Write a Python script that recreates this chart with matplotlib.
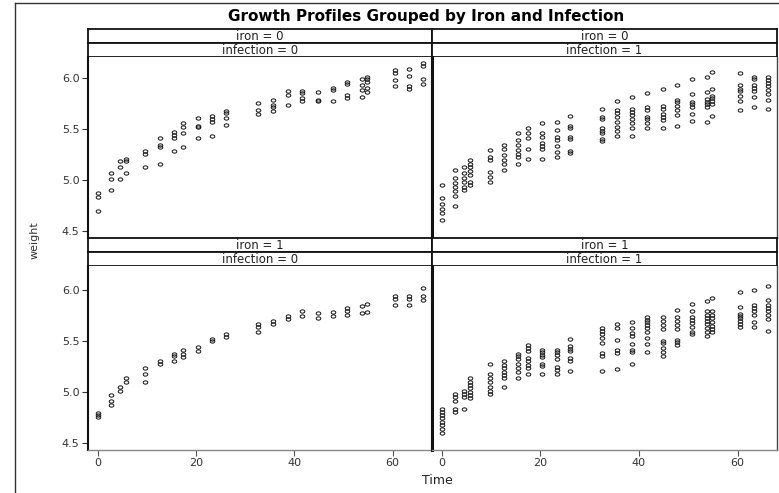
import matplotlib
matplotlib.use("Agg")
import matplotlib.pyplot as plt
from matplotlib.path import Path
from matplotlib.lines import Line2D
import numpy as np

plt.rcParams.update({"font.family": ["DejaVu Sans"], "figure.dpi": 100})

W, H = 779, 493

# measurement days
TIMES = [0, 2.7, 4.5, 5.7, 9.7, 12.7, 15.4, 17.4, 20.3, 23.3, 26.1, 32.5, 35.6,
         38.6, 41.6, 44.8, 47.8, 50.8, 53.7, 54.8, 60.4, 63.3, 66.1]

# weights per time point, one list per panel
IRON0_INF0 = [
    [4.87, 4.83, 4.70], [5.07, 5.01, 4.90], [5.19, 5.13, 5.01], [5.21, 5.19, 5.07],
    [5.29, 5.26, 5.13], [5.41, 5.34, 5.32, 5.16], [5.47, 5.44, 5.41, 5.29],
    [5.56, 5.52, 5.46, 5.32], [5.61, 5.53, 5.52, 5.41], [5.63, 5.60, 5.57, 5.43],
    [5.68, 5.66, 5.61, 5.54], [5.76, 5.69, 5.65], [5.79, 5.74, 5.72, 5.68],
    [5.88, 5.84, 5.74], [5.88, 5.86, 5.81, 5.78], [5.87, 5.79, 5.78],
    [5.91, 5.89, 5.78], [5.96, 5.94, 5.84, 5.81], [5.99, 5.93, 5.89, 5.82],
    [6.01, 5.99, 5.96, 5.91, 5.87], [6.08, 6.05, 5.98, 5.92], [6.09, 6.02, 5.92, 5.90],
    [6.15, 6.12, 5.99, 5.94],
]
IRON0_INF1 = [
    [4.95, 4.82, 4.76, 4.72, 4.68, 4.61], [5.10, 5.02, 4.97, 4.93, 4.89, 4.84, 4.74],
    [5.13, 5.07, 5.02, 4.98, 4.93, 4.90], [5.20, 5.16, 5.13, 5.09, 5.05, 4.98, 4.95],
    [5.30, 5.23, 5.20, 5.08, 5.03, 4.98], [5.34, 5.31, 5.25, 5.20, 5.16, 5.10],
    [5.46, 5.39, 5.34, 5.30, 5.26, 5.23, 5.16], [5.51, 5.46, 5.41, 5.31, 5.21],
    [5.56, 5.46, 5.42, 5.36, 5.33, 5.31, 5.21], [5.57, 5.49, 5.42, 5.39, 5.33, 5.28, 5.23],
    [5.63, 5.53, 5.51, 5.42, 5.40, 5.29, 5.27],
    [5.70, 5.62, 5.60, 5.51, 5.48, 5.46, 5.40, 5.38],
    [5.78, 5.69, 5.66, 5.62, 5.57, 5.52, 5.48, 5.43],
    [5.82, 5.70, 5.67, 5.64, 5.60, 5.56, 5.51, 5.43],
    [5.86, 5.72, 5.69, 5.62, 5.60, 5.56, 5.51], [5.90, 5.73, 5.70, 5.65, 5.62, 5.59, 5.51],
    [5.93, 5.79, 5.77, 5.73, 5.69, 5.64, 5.53], [5.99, 5.85, 5.77, 5.75, 5.72, 5.65, 5.58],
    [6.01, 5.87, 5.80, 5.77, 5.75, 5.72, 5.57], [6.06, 5.90, 5.83, 5.81, 5.78, 5.75, 5.63],
    [6.05, 5.93, 5.90, 5.88, 5.83, 5.78, 5.69], [6.01, 5.99, 5.93, 5.91, 5.88, 5.82, 5.72],
    [6.01, 5.98, 5.95, 5.92, 5.89, 5.85, 5.79, 5.70],
]
IRON1_INF0 = [
    [4.79, 4.77, 4.75], [4.97, 4.91, 4.87], [5.05, 5.01], [5.13, 5.10],
    [5.23, 5.17, 5.10], [5.30, 5.27], [5.37, 5.35, 5.30], [5.41, 5.37, 5.34],
    [5.44, 5.40], [5.52, 5.50], [5.56, 5.54], [5.66, 5.63, 5.58], [5.69, 5.66],
    [5.74, 5.71], [5.79, 5.74], [5.77, 5.72], [5.78, 5.74], [5.82, 5.79, 5.75],
    [5.84, 5.77], [5.86, 5.78], [5.94, 5.91, 5.85], [5.94, 5.91, 5.85],
    [6.01, 5.94, 5.90],
]
IRON1_INF1 = [
    [4.83, 4.80, 4.77, 4.74, 4.70, 4.67, 4.64, 4.60], [4.98, 4.95, 4.91, 4.83, 4.80],
    [5.01, 4.98, 4.95, 4.83], [5.13, 5.10, 5.07, 5.04, 5.00, 4.97, 4.94],
    [5.27, 5.17, 5.13, 5.10, 5.05, 5.01, 4.98], [5.30, 5.26, 5.23, 5.19, 5.16, 5.13, 5.05],
    [5.37, 5.35, 5.32, 5.27, 5.23, 5.19, 5.13],
    [5.46, 5.43, 5.40, 5.33, 5.30, 5.26, 5.23, 5.17],
    [5.41, 5.39, 5.36, 5.34, 5.27, 5.25, 5.17], [5.41, 5.39, 5.36, 5.32, 5.24, 5.21, 5.17],
    [5.52, 5.45, 5.42, 5.40, 5.33, 5.30, 5.20],
    [5.62, 5.59, 5.56, 5.53, 5.48, 5.38, 5.35, 5.20], [5.66, 5.62, 5.51, 5.41, 5.38, 5.22],
    [5.68, 5.62, 5.57, 5.55, 5.47, 5.41, 5.39, 5.27],
    [5.73, 5.70, 5.68, 5.65, 5.62, 5.58, 5.53, 5.47, 5.39],
    [5.73, 5.69, 5.65, 5.61, 5.50, 5.48, 5.43, 5.39, 5.35],
    [5.80, 5.73, 5.69, 5.65, 5.61, 5.51, 5.49, 5.46],
    [5.86, 5.79, 5.73, 5.70, 5.67, 5.63, 5.58, 5.56],
    [5.89, 5.79, 5.75, 5.72, 5.69, 5.66, 5.62, 5.58, 5.55],
    [5.92, 5.79, 5.75, 5.72, 5.68, 5.64, 5.61, 5.58],
    [5.98, 5.83, 5.76, 5.74, 5.72, 5.69, 5.66, 5.63],
    [6.00, 5.85, 5.82, 5.79, 5.75, 5.68, 5.63],
    [6.03, 5.90, 5.85, 5.82, 5.79, 5.75, 5.71, 5.59],
]

X_TICKS = [0, 20, 40, 60]
Y_TICKS = [4.5, 5.0, 5.5, 6.0]

# flattened "o" glyph used as marker
ang = np.linspace(0, 2 * np.pi, 33)
OVAL = Path(np.column_stack([np.cos(ang), 0.72 * np.sin(ang)]), closed=True)


def box(x0, y0, x1, y1):
    return [x0 / W, 1 - y1 / H, (x1 - x0) / W, (y1 - y0) / H]


def strip(fig, x0, y0, x1, y1, label):
    s = fig.add_axes(box(x0, y0, x1, y1))
    s.set_xticks([]); s.set_yticks([])
    for sp in s.spines.values():
        sp.set_linewidth(1.3); sp.set_color("#111")
    s.text(0.5, 0.47, label, transform=s.transAxes, ha="center", va="center",
           fontsize=8.5, color="#222")


fig = plt.figure(figsize=(W / 100, H / 100))

# outer frame
fig.add_artist(Line2D([15 / W, 15 / W], [1 - 3 / H, 0], transform=fig.transFigure,
                      color="#333", lw=1))
fig.add_artist(Line2D([15 / W, 1], [1 - 3 / H, 1 - 3 / H], transform=fig.transFigure,
                      color="#333", lw=1))

fig.text(426 / W, 1 - 17 / H, "Growth Profiles Grouped by Iron and Infection",
         ha="center", va="center", fontsize=11, weight="bold")

cols = [(88, 432), (432, 777)]
rows = [(29, 43, 57, 238), (238, 252, 266, 450)]
panels = [(0, 0, IRON0_INF0), (0, 1, IRON0_INF1), (1, 0, IRON1_INF0), (1, 1, IRON1_INF1)]

for iron, inf, data in panels:
    x0, x1 = cols[inf]
    s0, s1, p0, p1 = rows[iron]
    strip(fig, x0, s0, x1, s1, f"iron = {iron}")
    strip(fig, x0, s1, x1, p0, f"infection = {inf}")
    ax = fig.add_axes(box(x0, p0, x1, p1))
    xs = [t for t, ws in zip(TIMES, data) for _ in ws]
    ys = [w for ws in data for w in ws]
    ax.plot(xs, ys, ls="none", marker=OVAL, ms=3.3, mfc="none", mec="#111", mew=0.7)
    ax.set_xlim(-2, 68)
    ax.set_ylim(4.43, 6.21 if iron == 0 else 6.23)
    ax.set_xticks(X_TICKS); ax.set_yticks(Y_TICKS)
    ax.spines["top"].set_visible(False)
    ax.spines["left"].set_linewidth(1.5 if inf == 0 else 2.2)
    ax.spines["left"].set_color("#111")
    ax.spines["right"].set_linewidth(2.2 if inf == 0 else 1.0)
    ax.spines["right"].set_color("#111" if inf == 0 else "#444")
    ax.spines["bottom"].set_color("#888" if iron == 1 else "#111")
    ax.spines["bottom"].set_linewidth(1.0)
    ax.tick_params(axis="y", left=(inf == 0), labelleft=(inf == 0), length=4,
                   width=0.8, color="#333", labelsize=8, labelcolor="#333", pad=2)
    ax.tick_params(axis="x", bottom=(iron == 1), labelbottom=(iron == 1), length=4,
                   width=0.8, color="#555", labelsize=8, labelcolor="#333", pad=2)
    ax.yaxis.set_major_formatter(matplotlib.ticker.FormatStrFormatter("%.1f"))

fig.text(35 / W, 1 - 240 / H, "weight", rotation=90, ha="center", va="center",
         fontsize=8, color="#333", family="Liberation Sans Narrow")
fig.text(437 / W, 1 - 480 / H, "Time", ha="center", va="center", fontsize=9, color="#222")

fig.savefig("out.png", dpi=100)
